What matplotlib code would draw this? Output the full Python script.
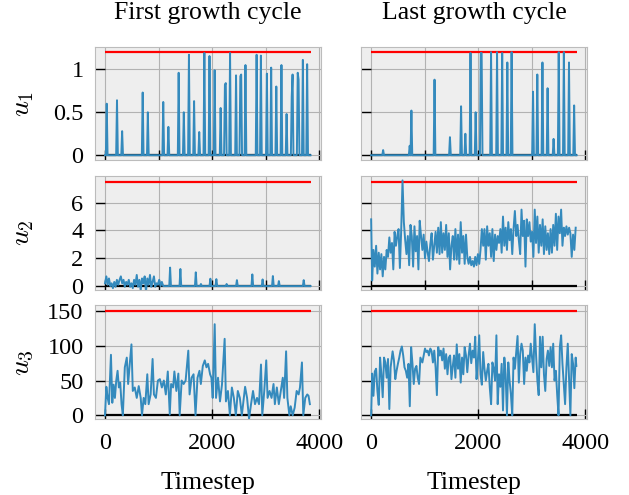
import matplotlib
matplotlib.use("Agg")
import matplotlib.pyplot as plt
import numpy as np
from matplotlib.ticker import FuncFormatter

# time horizon and bounds
T_END = 3840
DT = 16
LOWER = [0, 0, 0]
UPPER = [1.2, 7.5, 150]
YLIMS = [(-0.06, 1.26), (-0.25, 7.9), (-5, 158)]
YTICKS = [[0, 0.5, 1], [0, 2, 4, 6], [0, 50, 100, 150]]
YLABELS = ["$u_1$", "$u_2$", "$u_3$"]
TITLES = ["First growth cycle", "Last growth cycle"]

# u1: short pulses (time, height)
U1_FIRST_T = [25, 222, 321, 704, 802, 1093, 1185, 1377, 1475, 1568,
              1667, 1765, 1858, 1957, 2049, 2154, 2235, 2251, 2340, 2444,
              2531, 2547, 2623, 2827, 2920, 3019, 3111, 3198, 3302, 3395,
              3488, 3504, 3593, 3609, 3691, 3784]
U1_FIRST = [0.60, 0.64, 0.28, 0.73, 0.50, 0.62, 0.33, 0.96, 0.50, 1.17,
            0.63, 0.27, 1.19, 1.155, 0.99, 0.55, 0.82, 0.84, 1.19, 0.93,
            0.92, 0.94, 1.05, 1.17, 1.16, 0.95, 1.02, 0.80, 1.05, 0.48,
            0.68, 0.94, 0.96, 0.88, 1.11, 1.06]
U1_LAST_T = [228, 716, 759, 1191, 1475, 1673, 1759, 1864, 1957, 2049,
             2065, 2247, 2346, 2444, 2537, 2630, 3019, 3111, 3204, 3302,
             3401, 3500, 3599, 3698, 3790]
U1_LAST = [0.06, 0.11, 0.52, 0.88, 0.21, 0.57, 0.25, 1.19, 0.50, 1.19,
           1.19, 1.2, 1.2, 1.19, 1.08, 1.2, 0.74, 0.94, 1.08, 0.78,
           0.19, 1.2, 1.2, 1.08, 0.58]

# u2, first cycle: noisy start, then pulses
U2_FIRST_EARLY_T = [0, 25, 49, 74, 99, 123, 148, 173, 198, 222,
                    247, 272, 296, 321, 346, 370, 395, 420, 444, 469,
                    494, 519, 543, 568, 593, 617, 642, 667, 691, 716,
                    741, 765, 790, 815, 840, 864, 889, 914, 938, 963,
                    988, 1012, 1037, 1062, 1086]
U2_FIRST_EARLY = [0.2, 0.7, 0.1, 0.55, 0, 0.2, -0.15, 0.3, -0.05, 0.45,
                  0.1, 0.45, 0.7, 0.2, 0.45, -0.05, 0.3, 0.1, 0.45, -0.05,
                  0.2, -0.15, 0.45, 0.1, 0.8, -0.05, 0.45, -0.3, 0.55, 0.2,
                  0.7, -0.4, 0.55, 0.1, 0.8, -0.05, 0.3, 0.7, -0.05, 0.2,
                  0.1, 0.45, 0, 0.3, 0]
U2_FIRST_PULSE_T = [1216, 1401, 1698, 1790, 1975, 2074, 2278, 2463, 2759, 2944,
                    3136, 3241, 3716]
U2_FIRST_PULSE = [1.33, 1.23, 0.99, 0.15, 0.53, 0.5, 0.15, 0.43, 0.84, 0.48,
                  0.72, 0.36, 0.43]

U2_LAST_T = [0, 19, 43, 68, 93, 117, 142, 167, 191, 216,
             241, 265, 290, 315, 340, 364, 389, 414, 438, 463,
             488, 512, 537, 562, 586, 611, 636, 660, 685, 710,
             735, 759, 784, 809, 833, 858, 883, 907, 932, 957,
             981, 1006, 1031, 1056, 1080, 1105, 1130, 1154, 1179, 1204,
             1228, 1253, 1278, 1302, 1327, 1352, 1377, 1401, 1426, 1451,
             1475, 1500, 1525, 1549, 1574, 1599, 1623, 1648, 1673, 1698,
             1722, 1747, 1772, 1796, 1821, 1846, 1870, 1895, 1920, 1944,
             1969, 1994, 2019, 2043, 2068, 2093, 2117, 2142, 2167, 2191,
             2216, 2241, 2265, 2290, 2315, 2340, 2364, 2389, 2414, 2438,
             2463, 2488, 2512, 2537, 2562, 2586, 2611, 2636, 2660, 2685,
             2710, 2735, 2759, 2784, 2809, 2833, 2858, 2883, 2907, 2932,
             2957, 2981, 3006, 3031, 3056, 3080, 3105, 3130, 3154, 3179,
             3204, 3228, 3253, 3278, 3302, 3327, 3352, 3377, 3401, 3426,
             3451, 3475, 3500, 3525, 3549, 3574, 3599, 3623, 3648, 3673,
             3698, 3722, 3747, 3772, 3796, 3821]
U2_LAST = [4.8, 0.4, 2.6, 1.4, 2.9, 0.9, 2.4, 1.2, 2.3, 0.7,
           2.1, 1.2, 2.6, 2.1, 3.5, 2.4, 3.1, 1.2, 3.9, 2.9,
           3.6, 4.1, 1.3, 4.1, 7.6, 4.6, 3.3, 2.3, 3.6, 1.5,
           4.4, 3.6, 1.4, 4.3, 2.5, 3.6, 1.2, 4.7, 3.6, 2.6,
           3.7, 2.0, 3.2, 2.4, 1.8, 3.0, 3.8, 1.9, 2.9, 3.9,
           2.4, 4.2, 2.3, 4.6, 2.4, 3.8, 2.6, 4.4, 2.1, 3.8,
           1.2, 2.9, 3.6, 1.9, 4.1, 1.9, 3.7, 1.6, 4.6, 2.4,
           3.6, 1.6, 3.7, 2.1, 1.6, 2.1, 1.5, 1.8, 1.4, 2.1,
           1.5, 2.3, 1.6, 2.6, 4.1, 2.9, 4.1, 1.9, 4.3, 2.9,
           3.8, 2.1, 4.1, 1.8, 3.7, 2.6, 3.6, 3.1, 4.1, 2.4,
           5.0, 2.9, 4.2, 2.6, 4.6, 3.3, 4.1, 2.3, 4.1, 5.4,
           3.6, 4.4, 3.3, 2.3, 5.5, 3.6, 4.7, 1.4, 4.8, 3.6,
           4.6, 3.2, 3.9, 2.1, 5.5, 3.1, 5.0, 2.4, 4.4, 2.9,
           4.8, 2.3, 4.3, 2.6, 3.8, 2.3, 4.1, 2.4, 4.4, 2.9,
           5.2, 2.6, 5.0, 3.8, 5.5, 2.9, 4.2, 3.6, 4.3, 3.7,
           4.2, 3.8, 2.1, 3.7, 2.6, 4.2]

U3_FIRST_T = [0, 25, 49, 74, 111, 136, 160, 185, 210, 235,
              259, 284, 309, 333, 370, 407, 432, 457, 494, 519,
              556, 593, 630, 667, 691, 722, 753, 790, 815, 852,
              889, 914, 951, 988, 1025, 1062, 1099, 1136, 1173, 1210,
              1235, 1272, 1296, 1333, 1370, 1395, 1432, 1469, 1506, 1556,
              1580, 1617, 1654, 1691, 1728, 1765, 1790, 1827, 1864, 1895,
              1926, 1963, 1988, 2012, 2049, 2074, 2111, 2148, 2185, 2235,
              2259, 2296, 2333, 2370, 2407, 2444, 2481, 2519, 2556, 2593,
              2617, 2654, 2691, 2728, 2765, 2802, 2840, 2877, 2914, 2938,
              2975, 3012, 3037, 3074, 3111, 3148, 3173, 3210, 3247, 3284,
              3321, 3346, 3383, 3407, 3444, 3469, 3506, 3543, 3580, 3617,
              3642, 3679, 3704, 3741, 3778, 3802, 3827]
U3_FIRST = [0, 41, 25, 16, 87, 18, 44, 25, 50, 64,
            40, 47, 16, 0, 69, 83, 45, 69, 102, 35,
            40, 25, 42, 25, 0, 25, 16, 59, 16, 30,
            81, 30, 25, 50, 52, 40, 50, 30, 63, 1,
            45, 40, 63, 35, 60, 0, 50, 45, 50, 93,
            30, 54, 59, 0, 54, 64, 45, 71, 79, 69,
            74, 59, 54, 25, 131, 25, 54, 20, 44, 110,
            20, 35, 0, 40, 25, 0, 35, 25, 0, 25,
            41, 25, -5, 16, 35, 16, 25, 16, 73, 0,
            35, 79, 25, 35, 25, 45, 16, 40, 16, 35,
            54, 25, 92, 25, 0, 13, 0, 11, 35, 30,
            40, 76, 0, 25, 30, 28, 16]

U3_LAST_T = [0, 19, 43, 68, 93, 117, 142, 167, 191, 216,
             241, 265, 290, 315, 340, 364, 401, 426, 451, 475,
             500, 525, 549, 574, 599, 623, 648, 673, 698, 722,
             747, 772, 796, 821, 846, 870, 895, 920, 957, 981,
             1006, 1031, 1056, 1080, 1105, 1130, 1154, 1179, 1204, 1228,
             1253, 1278, 1302, 1327, 1352, 1377, 1401, 1426, 1451, 1475,
             1500, 1525, 1549, 1574, 1599, 1623, 1648, 1673, 1698, 1722,
             1747, 1772, 1796, 1821, 1846, 1870, 1895, 1920, 1944, 1969,
             1994, 2019, 2043, 2068, 2093, 2117, 2142, 2167, 2191, 2216,
             2241, 2265, 2290, 2315, 2340, 2364, 2389, 2414, 2438, 2463,
             2488, 2512, 2537, 2562, 2586, 2611, 2636, 2660, 2685, 2710,
             2735, 2759, 2784, 2809, 2833, 2858, 2883, 2907, 2932, 2957,
             2981, 3006, 3031, 3056, 3080, 3105, 3130, 3154, 3179, 3204,
             3228, 3253, 3278, 3302, 3327, 3352, 3377, 3401, 3426, 3451,
             3475, 3500, 3525, 3549, 3574, 3599, 3623, 3648, 3673, 3698,
             3722, 3747, 3772, 3796, 3821, 3833]
U3_LAST = [0, 60, 28, 63, 67, 35, 15, 83, 59, 26,
           83, 76, 54, 81, 9, 69, 92, 79, 52, 64,
           74, 83, 93, 99, 86, 69, 64, 54, 74, 13,
           98, 74, 45, 67, 71, 54, 45, 83, 76, 86,
           96, 91, 93, 86, 96, 92, 76, 93, 69, 29,
           98, 86, 93, 79, 96, 67, 88, 59, 83, 86,
           52, 71, 86, 54, 102, 67, 88, 47, 83, 59,
           98, 86, 62, 86, 103, 75, 93, 83, 113, 52,
           79, 115, 59, 44, 91, 67, 50, 64, 74, 40,
           16, 76, 67, 50, 115, 16, 59, 41, 74, 7,
           83, 59, 0, 76, 50, 30, 0, 83, 67, 91,
           114, 47, 88, 103, 93, 45, 83, 64, 86, 76,
           103, 83, 62, 131, 88, 50, 29, 113, 69, 113,
           59, 35, 81, 93, 71, 98, 69, 103, 50, 64,
           30, 0, 98, 115, 74, 45, 16, 69, 103, 50,
           0, 88, 74, 39, 83, 71]


def pulses(times, heights):
    t = np.arange(0, T_END + 1, DT)
    y = np.zeros(len(t))
    y[np.round(np.array(times) / DT).astype(int)] = heights
    return t, y


t1a, y1a = pulses(U1_FIRST_T, U1_FIRST)
t1b, y1b = pulses(U1_LAST_T, U1_LAST)
tp, yp = pulses(U2_FIRST_PULSE_T, U2_FIRST_PULSE)
keep = tp > U2_FIRST_EARLY_T[-1]
t2a = np.concatenate([U2_FIRST_EARLY_T, tp[keep]])
y2a = np.concatenate([U2_FIRST_EARLY, yp[keep]])

series = [[(t1a, y1a), (t1b, y1b)],
          [(t2a, y2a), (U2_LAST_T, U2_LAST)],
          [(U3_FIRST_T, U3_FIRST), (U3_LAST_T, U3_LAST)]]

plt.style.use("bmh")
plt.rcParams.update({
    "font.family": "serif",
    "font.serif": ["Liberation Serif", "DejaVu Serif"],
    "mathtext.fontset": "cm",
    "axes.unicode_minus": False,
    "font.size": 17.5,
    "grid.linestyle": "-",
    "grid.linewidth": 0.8,
    "grid.color": "#b2b2b2",
})

fig, axes = plt.subplots(3, 2, figsize=(6.29, 4.95), dpi=100, sharey="row")
fig.subplots_adjust(left=0.1506, right=0.9332, top=0.905, bottom=0.154,
                    wspace=0.177, hspace=0.14)

fmt = FuncFormatter(lambda v, p: "%g" % v)
for r in range(3):
    for c in range(2):
        ax = axes[r, c]
        t, y = series[r][c]
        ax.hlines(LOWER[r], 0, T_END, color="k", lw=1.6)
        ax.hlines(UPPER[r], 0, T_END, color="red", lw=1.6)
        ax.plot(t, y, color="#348ABD", lw=1.4)
        ax.set_xlim(-192, 4032)
        ax.set_ylim(*YLIMS[r])
        ax.set_yticks(YTICKS[r])
        ax.yaxis.set_major_formatter(fmt)
        ax.tick_params(direction="in", length=7, width=1, color="k",
                       labelsize=17.5, pad=8)
        ax.tick_params(axis="x", pad=10)
        if r < 2:
            ax.set_xticks([0, 1000, 2000, 3000, 4000])
            ax.tick_params(labelbottom=False)
        else:
            ax.set_xticks([0, 2000, 4000])
            ax.set_xlabel("Timestep", fontsize=18.5, labelpad=13)
        if r == 0:
            ax.set_title(TITLES[c], fontsize=18.5, pad=20)
    axes[r, 0].set_ylabel(YLABELS[r], fontsize=20)
    axes[r, 0].yaxis.set_label_coords(-0.26, 0.5)

fig.savefig("out.png", dpi=100)
